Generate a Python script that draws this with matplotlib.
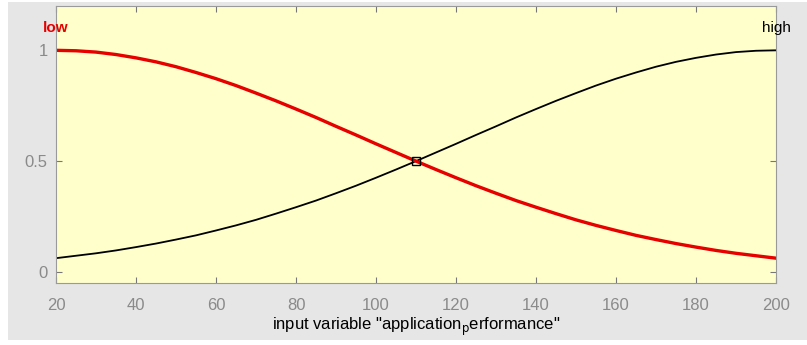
import matplotlib.pyplot as plt
from matplotlib.patches import Rectangle

plt.rcParams['font.family'] = ['Liberation Sans', 'DejaVu Sans']

# membership values, every 5 units
x_vals = [20, 25, 30, 35, 40, 45, 50, 55, 60, 65, 70, 75, 80, 85, 90, 95, 100, 105, 110,
          115, 120, 125, 130, 135, 140, 145, 150, 155, 160, 165, 170, 175, 180, 185,
          190, 195, 200]
low_vals = [1.0, 0.998, 0.992, 0.981, 0.966, 0.948, 0.926, 0.900, 0.872, 0.841,
            0.807, 0.772, 0.735, 0.697, 0.657, 0.618, 0.578, 0.539, 0.5,
            0.462, 0.425, 0.389, 0.355, 0.322, 0.292, 0.263, 0.235, 0.210, 0.187,
            0.165, 0.146, 0.128, 0.112, 0.097, 0.084, 0.073, 0.062]
high_vals = low_vals[::-1]
cross_x = [110]
cross_y = [0.5]
x_ticks = [20, 40, 60, 80, 100, 120, 140, 160, 180, 200]
y_ticks = [0, 0.5, 1]
y_ticklabels = ['0', '0.5', '1']

fig = plt.figure(figsize=(8.07, 3.45), dpi=100, facecolor='white')
fig.patches.append(Rectangle((8 / 807, 0.015), 1, 0.98, transform=fig.transFigure,
                             facecolor='#e6e6e6', edgecolor='none', zorder=-10))
ax = fig.add_axes([56 / 807, 1 - 283 / 345, 720 / 807, 277 / 345])
ax.set_facecolor('#ffffcc')

ax.plot(x_vals, high_vals, color='black', linewidth=1.3)
ax.plot(x_vals, low_vals, color='#e60000', linewidth=2.4)
ax.plot(cross_x, cross_y, marker='s', markersize=6, markerfacecolor='none',
        markeredgecolor='black', markeredgewidth=1.0, linestyle='none')

ax.text(20, 1.1, 'low', color='#e60000', ha='center', va='center',
        fontsize=11, fontweight='bold')
ax.text(200, 1.1, 'high', color='black', ha='center', va='center', fontsize=11)

ax.set_xlim(20, 200)
ax.set_ylim(-0.05, 1.2)
ax.set_xticks(x_ticks)
ax.set_yticks(y_ticks)
ax.set_yticklabels(y_ticklabels)
ax.tick_params(direction='in', length=4, color='#777777', labelcolor='#8a8a8a',
               labelsize=12, top=True, right=True)
ax.tick_params(axis='x', pad=11)
ax.tick_params(axis='y', pad=6)
for s in ax.spines.values():
    s.set_color('#9a9a9a')

ax.set_xlabel('input variable "application$_{\\rm p}$erformance"', fontsize=12,
              labelpad=2)

plt.savefig('out.png', dpi=100, facecolor=fig.get_facecolor())
